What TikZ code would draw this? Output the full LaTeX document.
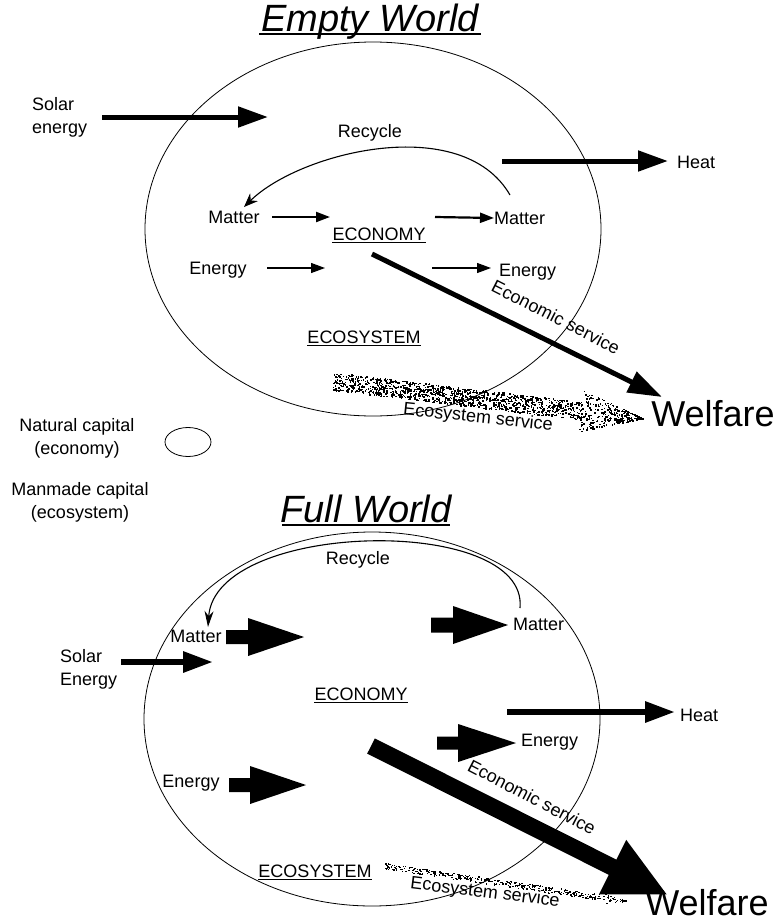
\documentclass[tikz,border=0pt]{standalone}
\usepackage{fontspec}
\setmainfont{Liberation Sans}
\usetikzlibrary{arrows.meta,shapes.geometric}
\newcommand\blockarrow[6]{% x tail, x head base, x tip, y, tail half, head half
  \fill (#1,{#4-#5}) -- (#2,{#4-#5}) -- (#2,{#4-#6}) -- (#3,#4) -- (#2,{#4+#6}) -- (#2,{#4+#5}) -- (#1,{#4+#5}) -- cycle;}
\begin{document}
\begin{tikzpicture}[x=1pt,y=-1pt,
  lbl/.style={font=\fontsize{18}{23}\selectfont, inner sep=0pt, align=center},
  ttl/.style={font=\fontsize{38}{42}\selectfont\itshape, inner sep=0pt, anchor=base},
  wel/.style={font=\fontsize{36}{40}\selectfont, inner sep=0pt},
  world/.style={draw, ellipse, line width=0.8pt, inner sep=0pt, minimum width=456pt, minimum height=374pt},
  bigarr/.style={line width=5pt, -{Triangle[length=30pt,width=20pt]}},
  midarr/.style={line width=2.2pt, -{Triangle[length=14pt,width=10pt]}},
  thinarr/.style={line width=1.2pt, -{Triangle[length=14pt,width=10pt]}},
  recyc/.style={line width=1.1pt},
  uline/.style={line width=0.9pt}]
\useasboundingbox (0,0) rectangle (781,924);
\fill[white] (0,0) rectangle (781,924);

% ================= EMPTY WORLD =================
\node[ttl] (t1) at (370,31) {Empty World};
\draw[line width=2pt] (259,34) -- (481,34);
\node[world] (e1) at (373,229) {};

\node[lbl, align=left, anchor=west] (sol1) at (32,117) {Solar\\energy};
\coordinate (sol1a) at (102,117); \coordinate (sol1b) at (268,117);
\draw[bigarr] (sol1a) -- (sol1b);

\node[lbl] (rec1) at (370,133) {Recycle};
\coordinate (rec1a) at (510,195); \coordinate (rec1b) at (244,207);
\draw[recyc, -{Stealth[length=14pt,width=11pt]}] (rec1a) .. controls (462,112) and (300,152) .. (rec1b);

\node[lbl, anchor=west] (heat1) at (677,162) {Heat};
\coordinate (heat1a) at (502,161); \coordinate (heat1b) at (668,161);
\draw[bigarr] (heat1a) -- (heat1b);

\node[lbl] (mat1l) at (234,217) {Matter};
\coordinate (m1a) at (272,217); \coordinate (m1b) at (330,217);
\draw[midarr] (m1a) -- (m1b);
\node[lbl, anchor=west] (mat1r) at (494,218) {Matter};
\coordinate (m1c) at (435,217);
\draw[midarr] (m1c) -- (mat1r.west);

\node[lbl] (econ1) at (379,234) {ECONOMY};
\draw[uline] ([yshift=-2pt]econ1.south west) -- ([yshift=-2pt]econ1.south east);

\node[lbl] (en1l) at (218,270) {Energy};
\coordinate (n1a) at (267,268); \coordinate (n1b) at (325,268);
\draw[thinarr] (n1a) -- (n1b);
\node[lbl, anchor=west] (en1r) at (499,272) {Energy};
\coordinate (n1c) at (432,268); \coordinate (n1d) at (491,268);
\draw[thinarr] (n1c) -- (n1d);

\coordinate (es1a) at (372,254); \coordinate (es1b) at (662,397);
\draw[line width=5pt, -{Triangle[length=34pt,width=22pt]}] (es1a) -- (es1b);
\node[lbl, rotate=-27] (esl1) at (556,317) {Economic service};

\node[lbl] (ecos1) at (364,337) {ECOSYSTEM};
\draw[uline] ([yshift=-2pt]ecos1.south west) -- ([yshift=-2pt]ecos1.south east);

% speckled ecosystem-service arrow (top)
\pgfmathsetseed{7}
\foreach \i in {1,...,1500}{
  \pgfmathsetmacro\tt{rnd}
  \pgfmathsetmacro\ss{2*rnd-1}
  \pgfmathsetmacro\hh{\tt<0.8 ? 9 : 21*(1-\tt)/0.2}
  \pgfmathsetmacro\px{333+310*\tt-0.1185*\ss*\hh}
  \pgfmathsetmacro\py{381+37*\tt+0.993*\ss*\hh}
  \fill (\px,\py) rectangle ++(1.5,1.5);
}
\node[lbl, rotate=-6] (ecl1) at (478,418) {Ecosystem service};
\node[wel] (wel1) at (713,414) {Welfare};

% ================= LEGEND =================
\node[lbl] (nat) at (77,438) {Natural capital\\(economy)};
\node[draw, ellipse, line width=0.8pt, minimum width=46pt, minimum height=29pt, inner sep=0pt] (leg) at (188,442) {};
\node[lbl] (man) at (80,502) {Manmade capital\\(ecosystem)};

% ================= FULL WORLD =================
\node[ttl] (t2) at (366,522) {Full World};
\draw[line width=2pt] (282,525) -- (450,525);
\node[world] (e2) at (372,719) {};

\node[lbl] (rec2) at (358,560) {Recycle};
\coordinate (rec2a) at (520,608); \coordinate (rec2b) at (208,627);
\draw[recyc, -{Stealth[length=16pt,width=9pt]}] (rec2a) .. controls (529,514) and (215,520) .. (rec2b);

\node[lbl] (mat2l) at (196,636) {Matter};
\blockarrow{226}{248}{304}{637}{7}{19}
\node[lbl, anchor=west] (mat2r) at (513,624) {Matter};
\blockarrow{431}{453}{508}{625}{7.5}{19}

\node[lbl, align=left, anchor=west] (sol2) at (60,669) {Solar\\Energy};
\coordinate (sol2a) at (121,662); \coordinate (sol2b) at (213,662);
\draw[bigarr, line width=6pt] (sol2a) -- (sol2b);

\node[lbl] (econ2) at (361,694) {ECONOMY};
\draw[uline] ([yshift=-2pt]econ2.south west) -- ([yshift=-2pt]econ2.south east);

\node[lbl, anchor=west] (heat2) at (680,715) {Heat};
\coordinate (heat2a) at (507,712); \coordinate (heat2b) at (675,712);
\draw[bigarr, line width=6pt] (heat2a) -- (heat2b);

\node[lbl, anchor=west] (en2r) at (521,742) {Energy};
\blockarrow{437}{458}{516}{743}{6.5}{19}

\node[lbl] (en2l) at (191,783) {Energy};
\blockarrow{229}{250}{306}{785}{7}{19}

\coordinate (es2a) at (371,746); \coordinate (es2b) at (668,895);
\draw[line width=17pt, -{Triangle[length=62pt,width=56pt]}] (es2a) -- (es2b);
\node[lbl, rotate=-27.5] (esl2) at (532,797) {Economic service};

\node[lbl] (ecos2) at (315,871) {ECOSYSTEM};
\draw[uline] ([yshift=-2pt]ecos2.south west) -- ([yshift=-2pt]ecos2.south east);

% speckled ecosystem-service arrow (bottom, thin)
\pgfmathsetseed{11}
\foreach \i in {1,...,420}{
  \pgfmathsetmacro\tt{rnd}
  \pgfmathsetmacro\ss{2*rnd-1}
  \pgfmathsetmacro\hh{\tt<0.88 ? 3 : 7*(1-\tt)/0.12}
  \pgfmathsetmacro\px{385+243*\tt-0.1426*\ss*\hh}
  \pgfmathsetmacro\py{866+35*\tt+0.990*\ss*\hh}
  \fill (\px,\py) rectangle ++(1.4,1.2);
}
\node[lbl, rotate=-7] (ecl2) at (485,893) {Ecosystem service};
\node[wel] (wel2) at (707,903) {Welfare};
\end{tikzpicture}
\end{document}
